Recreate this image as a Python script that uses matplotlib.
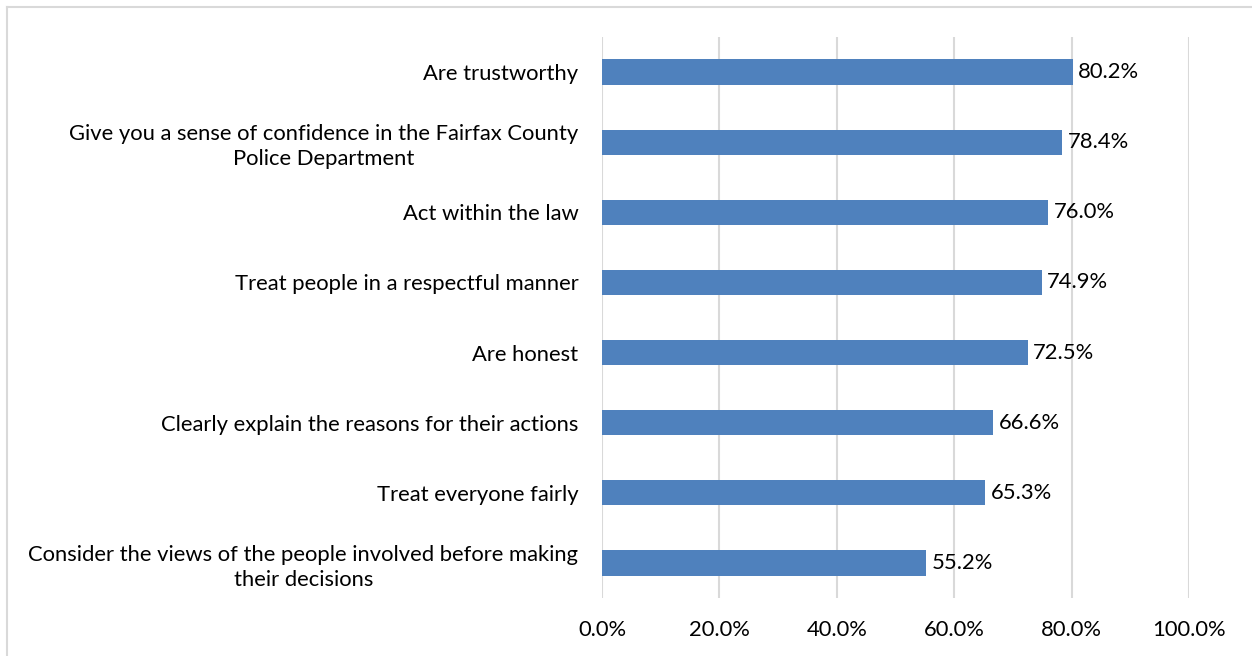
import numpy as np
import matplotlib.pyplot as plt
from matplotlib.lines import Line2D

# ##############################################################################
# chart data (top to bottom as drawn)
categories = ['Are trustworthy',
              'Give you a sense of confidence in the Fairfax County\nPolice Department',
              'Act within the law',
              'Treat people in a respectful manner',
              'Are honest',
              'Clearly explain the reasons for their actions',
              'Treat everyone fairly',
              'Consider the views of the people involved before making\ntheir decisions']
values = [80.2, 78.4, 76.0, 74.9, 72.5, 66.6, 65.3, 55.2]
xticks = [0, 20, 40, 60, 80, 100]
xtick_labels = [f'{t:.1f}%' for t in xticks]

bar_color = '#4f81bd'
grid_color = '#d9d9d9'
plt.rcParams['font.family'] = ['Lato', 'DejaVu Sans']
fs = 15.8

# ##############################################################################
fig = plt.figure(figsize=(12.52, 6.56), dpi=100)
ax = fig.add_axes([602/1252, 1 - 598/656, (1189 - 602)/1252, (598 - 37)/656])

ypos = np.arange(len(categories))
ax.barh(ypos, values, height=0.36, color=bar_color, zorder=3)

for y, v in zip(ypos, values):
    ax.annotate(f'{v:.1f}%', (v, y), xytext=(4, 0), textcoords='offset points',
                va='center', ha='left', fontsize=fs, color='#000000')

ax.set_xlim(0, 100)
ax.set_ylim(len(categories) - 0.5, -0.5)
ax.set_xticks(xticks)
ax.set_xticklabels(xtick_labels, fontsize=fs)
ax.set_yticks(ypos)
ax.set_yticklabels(categories, fontsize=fs, multialignment='center',
                   linespacing=1.3)
ax.tick_params(axis='both', length=0)
ax.tick_params(axis='y', pad=17)
ax.tick_params(axis='x', pad=16)
ax.grid(axis='x', color=grid_color, linewidth=1.5, zorder=0)
for s in ax.spines.values():
    s.set_visible(False)

# chart area border (left and top edges visible)
fig.add_artist(Line2D([7/1252, 7/1252], [0, 1 - 7/656], color=grid_color,
                      linewidth=1.5, transform=fig.transFigure))
fig.add_artist(Line2D([7/1252, 1], [1 - 7/656, 1 - 7/656], color=grid_color,
                      linewidth=1.5, transform=fig.transFigure))

plt.savefig('out.png', dpi=100)
